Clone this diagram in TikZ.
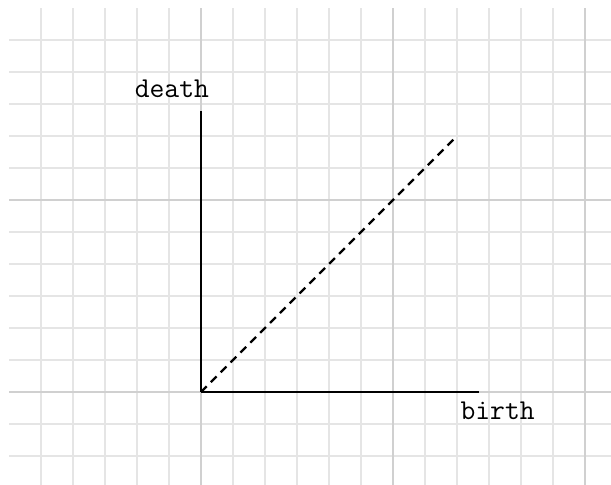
\documentclass[tikz,border=0pt]{standalone}
\usetikzlibrary{positioning}
\definecolor{gridlight}{RGB}{229,229,229}
\definecolor{griddark}{RGB}{208,208,208}
\tikzset{
    minorgrid/.style={
        draw=gridlight,
        line width=0.9pt
    },
    majorgrid/.style={
        draw=griddark,
        line width=0.9pt
    },
    axis/.style={
        line width=1.3pt,
        draw=black
    },
    diagline/.style={
        line width=1pt,
        draw=black,
        dash pattern=on 3.6pt off 2.6pt
    },
    axislabel/.style={
        anchor=base,
        inner sep=0pt,
        font=\fontsize{12.8}{15}\selectfont\ttfamily
    }
}

\begin{document}
\begin{tikzpicture}[x=0.5cm, y=0.5cm]
            \useasboundingbox (-6.281,-2.906) rectangle (12.8125,12.25);

            % Grid
            \draw[minorgrid, step=1] (-5.99,-2.906) grid (12.8125,11.99);
            \draw[majorgrid, step=6] (-5.99,-2.906) grid (12.8125,11.99);

            % Axes
            \coordinate (O) at (0,0);
            \coordinate (deathtip) at (0,8.79);
            \coordinate (birthtip) at (8.7,0);
            \coordinate (diagtip) at (8,8);
            \draw[axis] (O) -- (deathtip);
            \draw[axis] (O) -- (birthtip);

            % Diagonal
            \draw[diagline] (O) -- (diagtip);

            % Labels
            \node[axislabel] (death) at (-0.91,9.19) {death};
            \node[axislabel] (birth) at (9.27,-0.85) {birth};
\end{tikzpicture}
\end{document}
